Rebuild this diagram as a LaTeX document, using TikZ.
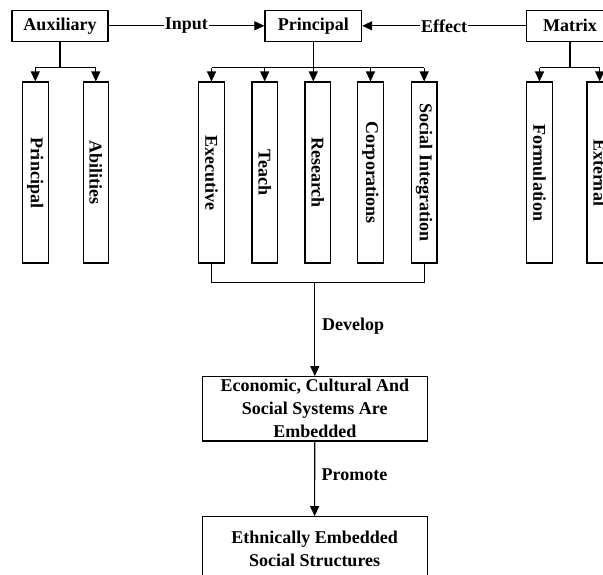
\documentclass[tikz,border=0pt]{standalone}
\usepackage{fontspec}
\setmainfont{Liberation Serif}
\usetikzlibrary{arrows.meta}
\begin{document}
\begin{tikzpicture}[x=1pt,y=-1pt,
  every node/.style={font=\fontsize{18}{23}\selectfont\bfseries, inner sep=0pt},
  topbox/.style={draw, line width=1.1pt, minimum height=31.5pt, anchor=center},
  vbox/.style={draw, line width=1.1pt, rotate=-90, minimum width=181pt, minimum height=25.5pt},
  wbox/.style={draw, line width=1.1pt, minimum width=225pt, align=center},
  arr/.style={-{Triangle[length=10pt,width=9pt]}},
  ln/.style={line width=1.1pt},
  lab/.style={fill=white, inner sep=1pt}]
\useasboundingbox (0,0) rectangle (603,574);
\clip (0,0) rectangle (603,574);
% top boxes
\node[topbox, minimum width=96pt] (aux) at (60,25.8) {Auxiliary};
\node[topbox, minimum width=96.7pt] (prin) at (313.3,25.8) {Principal};
\node[topbox, minimum width=86.6pt] (mat) at (570,25.8) {Matrix};
% vertical boxes
\node[vbox] (pv) at (35.3,172.5) {Principal};
\node[vbox] (av) at (95.8,172.5) {Abilities};
\node[vbox] (ex) at (211.5,172.5) {Executive};
\node[vbox] (te) at (264.7,172.5) {Teach};
\node[vbox] (re) at (317.7,172.5) {Research};
\node[vbox] (co) at (370.5,172.5) {Corporations};
\node[vbox] (so) at (424.2,172.5) {Social Integration};
\node[vbox] (fo) at (539.5,172.5) {Formulation};
\node[vbox] (xt) at (599.7,172.5) {External};
% lower boxes
\node[wbox, minimum height=64.3pt] (econ) at (314.8,408.8) {Economic, Cultural And\\Social Systems Are\\Embedded};
\node[wbox, minimum height=64.3pt] (eth) at (314.6,548.8) {Ethnically Embedded\\Social Structures};
% labels
\node[anchor=west] (dev) at (322,326) {Develop};
\node[anchor=west] (pro) at (321.5,475) {Promote};
% top connectors
\draw[ln,arr] (aux.east) -- node[lab] (inp) {Input} (prin.west);
\draw[ln,arr] (mat.west) -- node[lab] (eff) {Effect} (prin.east);
% auxiliary branch
\coordinate (bar) at (0,67.5);
\draw[ln] (aux.south) -- (aux.south |- bar);
\draw[ln] (pv.west |- bar) -- (av.west |- bar);
\draw[ln,arr] (pv.west |- bar) -- (pv.west);
\draw[ln,arr] (av.west |- bar) -- (av.west);
% principal branch
\draw[ln] (ex.west |- bar) -- (so.west |- bar);
\draw[ln,arr] (prin.south) -- (prin.south |- re.west);
\draw[ln,arr] (ex.west |- bar) -- (ex.west);
\draw[ln,arr] (te.west |- bar) -- (te.west);
\draw[ln,arr] (co.west |- bar) -- (co.west);
\draw[ln,arr] (so.west |- bar) -- (so.west);
% matrix branch
\draw[ln] (mat.south) -- (mat.south |- bar);
\draw[ln] (fo.west |- bar) -- (xt.west |- bar);
\draw[ln,arr] (fo.west |- bar) -- (fo.west);
\draw[ln,arr] (xt.west |- bar) -- (xt.west);
% bracket
\coordinate (bk) at (0,282.7);
\draw[ln] (ex.east) -- (ex.east |- bk) -- (so.east |- bk) -- (so.east);
\draw[ln,arr] (econ.north |- bk) -- (econ.north);
\draw[ln,arr] (econ.south) -- (eth.north);
\end{tikzpicture}
\end{document}
